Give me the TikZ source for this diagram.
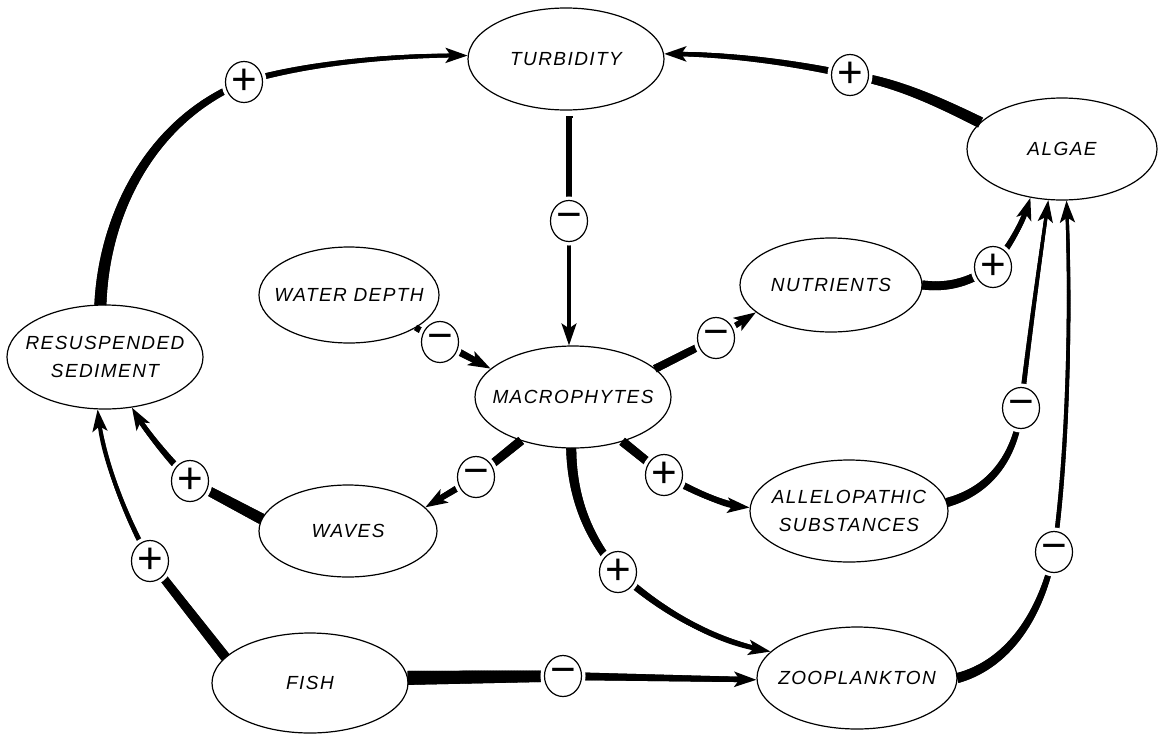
\documentclass[tikz,border=0pt]{standalone}
\usepackage{fontspec}
\newfontfamily\lblfam{Liberation Sans}[LetterSpace=7.5]
\newfontfamily\sgnfam{Liberation Sans}
\usetikzlibrary{shapes.geometric,arrows.meta,decorations.markings,calc}
\tikzset{
  ell/.style 2 args={ellipse, draw, line width=1.2pt, inner sep=0pt,
    minimum width=#1pt, minimum height=#2pt},
  lbl/.style={font=\lblfam\itshape\fontsize{19}{28}\selectfont, align=center, inner sep=0pt},
  sgn/.style={ellipse, draw, line width=1.2pt, fill=white, minimum width=37pt,
    minimum height=41pt, inner sep=0pt, font=\sgnfam\fontsize{44}{44}\selectfont,
    preaction={draw=white, line width=8pt}},
  tp/.style 2 args={postaction={decorate, decoration={markings,
    mark=between positions 0 and 1 step 0.6pt with {%
      \pgfmathsetmacro\tr{0.5*(#1+(#2-#1)*\pgfkeysvalueof{/pgf/decoration/mark info/distance from start}/\pgfdecoratedpathlength)}%
      \fill (-0.6pt,-\tr pt) rectangle (0.6pt,\tr pt);}}}},
  tpa/.style 2 args={draw, line width=#2pt, -{Stealth[length=22pt, width=15pt, inset=5pt]},
    postaction={decorate, decoration={markings,
    mark=between positions 0 and -14pt step 0.6pt with {%
      \pgfmathsetmacro\tr{0.5*(#1+(#2-#1)*\pgfkeysvalueof{/pgf/decoration/mark info/distance from start}/\pgfdecoratedpathlength)}%
      \fill (-0.6pt,-\tr pt) rectangle (0.6pt,\tr pt);}}}},
}
\begin{document}
\begin{tikzpicture}[x=1pt,y=-1pt]
\path[use as bounding box] (0,0) rectangle (1158,734);

% variables
\node[ell={196}{102}, label={[lbl]center:TURBIDITY}] (turb) at (566,59) {};
\node[ell={190}{102}, label={[lbl]center:ALGAE}] (algae) at (1062,149) {};
\node[ell={182}{94}, label={[lbl]center:NUTRIENTS}] (nutri) at (831,285) {};
\node[ell={180}{96}, label={[lbl]center:WATER DEPTH}] (water) at (349,295) {};
\node[ell={196}{102}, label={[lbl]center:MACROPHYTES}] (macro) at (573,397) {};
\node[ell={196}{104}, label={[lbl]center:RESUSPENDED\\SEDIMENT}] (sed) at (105,357) {};
\node[ell={178}{92}, label={[lbl]center:WAVES}] (waves) at (348,531) {};
\node[ell={198}{102}, label={[lbl]center:ALLELOPATHIC\\SUBSTANCES}] (allelo) at (849,511) {};
\node[ell={196}{100}, label={[lbl]center:FISH}] (fish) at (310,683) {};
\node[ell={200}{102}, label={[lbl]center:ZOOPLANKTON}] (zoo) at (857,678) {};

% sign positions
\coordinate (s1) at (244,82);
\coordinate (s2) at (850,75);
\coordinate (s3) at (569,221);
\coordinate (s4) at (440,342);
\coordinate (s5) at (716,338);
\coordinate (s6) at (993,267);
\coordinate (s7) at (476,477);
\coordinate (s8) at (664,475);
\coordinate (s9) at (618,572);
\coordinate (s10) at (1021,408);
\coordinate (s11) at (1054,552);
\coordinate (s12) at (190,481);
\coordinate (s13) at (150,561);
\coordinate (s14) at (563,676);

% 1 sediment -> turbidity
\path[tp={12}{6}] (sed.95) .. controls (104,215) and (150,120) .. (s1);
\draw[tpa={6}{3.5}] (s1) .. controls (310,62) and (400,55) .. (turb.178);
% 2 algae -> turbidity
\path[tp={11}{8}] (algae.162) .. controls (935,100) and (895,82) .. (s2);
\draw[tpa={7}{4}] (s2) .. controls (780,60) and (720,54) .. (turb.3);
% 3 turbidity -> macrophytes
\path[tp={7}{5}] ($(turb.south)+(3,6)$) -- (s3);
\draw[tpa={4.5}{3}] (s3) -- (macro.north -| s3);
% 4 water depth -> macrophytes
\path[tp={6}{6}] (water.-26) -- (s4);
\draw[tpa={8}{5}] (s4) -- (macro.161);
% 5 macrophytes -> nutrients
\path[tp={8}{7}] (macro.19) -- (s5);
\draw[tpa={7}{4}] (s5) -- (nutri.200);
% 6 nutrients -> algae
\path[tp={9}{8}] (nutri.east) .. controls (950,288) and (968,282) .. (s6);
\draw[tpa={6.5}{4}] (s6) .. controls (1010,245) and (1022,225) .. (algae.237);
% 7 macrophytes -> waves
\path[tp={9}{8}] (macro.220) -- (s7);
\draw[tpa={7}{5}] (s7) -- (waves.17);
% 8 macrophytes -> allelopathic substances
\path[tp={9}{8}] (macro.-42) -- (s8);
\draw[tpa={7}{5}] (s8) .. controls (700,495) and (725,505) .. (allelo.178);
% 9 macrophytes -> zooplankton
\path[tp={10}{7}] (macro.-92) .. controls (572,500) and (590,540) .. (s9);
\draw[tpa={7}{4}] (s9) .. controls (660,610) and (710,640) .. (zoo.163);
% 10 allelopathic substances -> algae
\path[tp={9}{5}] (allelo.5) .. controls (985,492) and (1015,462) .. (s10);
\draw[tpa={5}{3}] (s10) .. controls (1030,330) and (1040,260) .. (algae.255);
% 11 zooplankton -> algae
\path[tp={10}{5}] (zoo.east) .. controls (1005,665) and (1040,620) .. (s11);
\draw[tpa={4.5}{3}] (s11) .. controls (1066,470) and (1072,330) .. (algae.275);
% 12 waves -> resuspended sediment
\path[tp={11}{9}] (waves.172) -- (s12);
\draw[tpa={7}{4}] (s12) .. controls (165,455) and (145,430) .. (sed.-62);
% 13 fish -> resuspended sediment
\path[tp={10}{8}] (fish.163) -- (s13);
\draw[tpa={5}{3}] (s13) .. controls (125,515) and (103,460) .. (sed.262);
% 14 fish -> zooplankton
\path[tp={14}{11}] (fish.3) -- (s14);
\draw[tpa={8}{5}] (s14) -- (zoo.181);

% signs
\node[sgn] (p1) at (s1) {+};
\node[sgn] (p2) at (s2) {+};
\node[sgn] (p3) at (s3) {−};
\node[sgn] (p4) at (s4) {−};
\node[sgn] (p5) at (s5) {−};
\node[sgn] (p6) at (s6) {+};
\node[sgn] (p7) at (s7) {−};
\node[sgn] (p8) at (s8) {+};
\node[sgn] (p9) at (s9) {+};
\node[sgn] (p10) at (s10) {−};
\node[sgn] (p11) at (s11) {−};
\node[sgn] (p12) at (s12) {+};
\node[sgn] (p13) at (s13) {+};
\node[sgn] (p14) at (s14) {−};
\end{tikzpicture}
\end{document}
